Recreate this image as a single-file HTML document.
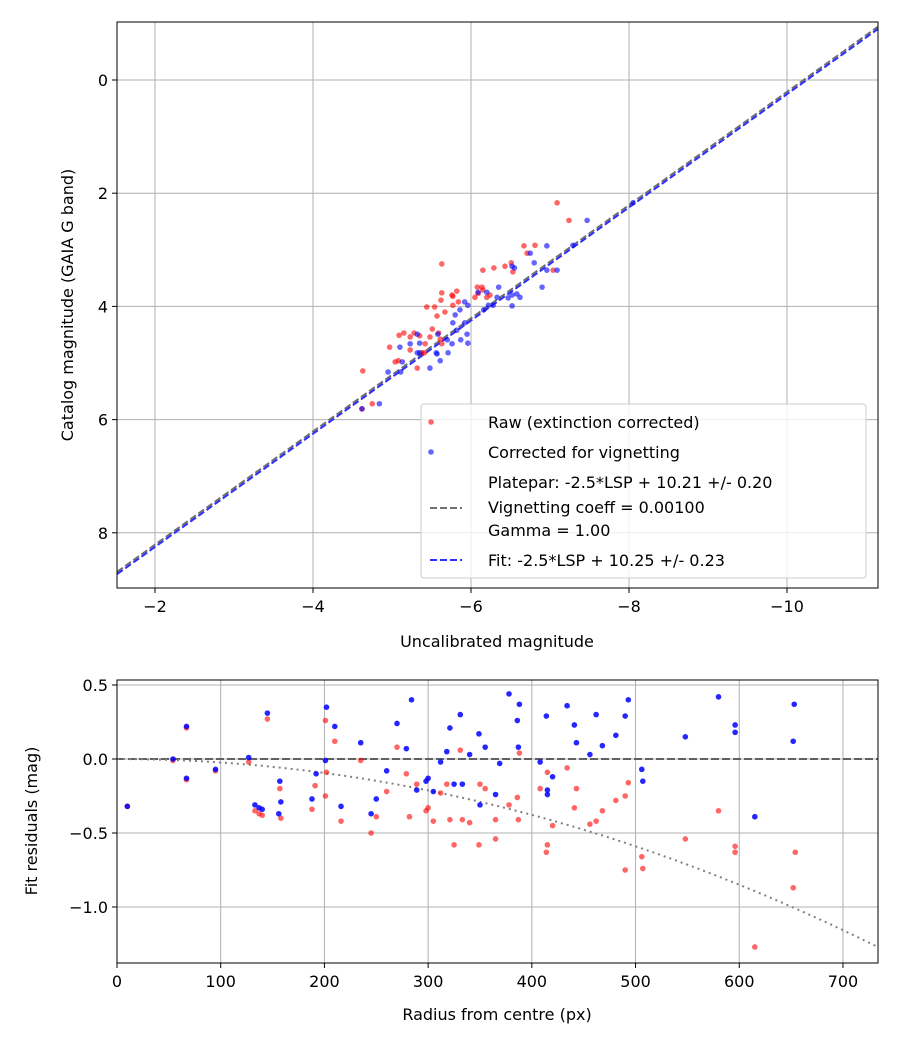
<!DOCTYPE html>
<html><head><meta charset="utf-8"><style>
body{margin:0;background:#fff}
svg text{font-family:"DejaVu Sans","Liberation Sans",sans-serif;fill:#000}
</style></head><body>
<svg id="fig" width="900" height="1050" xmlns="http://www.w3.org/2000/svg">
<rect width="900" height="1050" fill="#fff"/>
<g id="top"></g>
<g id="bot"></g>
</svg>
<script>
const rawX=[-7.09,-7.24,-6.67,-6.81,-6.71,-5.63,-6.15,-6.29,-6.43,-6.51,-6.53,-7.04,-6.08,-6.14,-6.15,-6.09,-6.20,-6.24,-6.05,-5.82,-5.77,-5.76,-5.62,-5.63,-5.44,-5.54,-5.57,-5.67,-5.84,-5.77,-5.09,-5.15,-5.23,-5.28,-5.35,-5.48,-5.51,-5.42,-5.61,-5.63,-4.97,-5.04,-5.08,-5.32,-5.41,-5.59,-4.63,-4.75,-4.62,-5.23,-5.38];
const rawY=[2.17,2.48,2.93,2.92,3.06,3.25,3.36,3.32,3.29,3.23,3.39,3.36,3.66,3.66,3.71,3.77,3.84,3.80,3.84,3.73,3.82,3.80,3.89,3.76,4.01,4.01,4.17,4.10,3.92,3.98,4.51,4.47,4.54,4.47,4.52,4.54,4.40,4.66,4.58,4.66,4.72,4.98,4.96,5.09,4.82,4.47,5.14,5.72,5.81,4.77,4.82];
const corX=[-8.05,-7.47,-6.96,-6.75,-7.29,-6.80,-6.96,-7.09,-6.90,-6.52,-6.55,-6.35,-6.47,-6.52,-6.58,-6.62,-6.52,-6.09,-6.20,-6.33,-6.28,-6.16,-6.22,-5.92,-5.96,-5.86,-5.80,-5.92,-5.77,-5.82,-5.95,-5.96,-5.87,-5.76,-5.70,-5.32,-5.35,-5.23,-5.10,-5.58,-5.56,-5.57,-5.32,-5.61,-5.48,-5.11,-5.13,-4.95,-4.84,-4.62,-5.71,-5.35];
const corY=[2.17,2.48,2.93,3.06,2.92,3.23,3.36,3.36,3.66,3.29,3.32,3.66,3.85,3.80,3.78,3.84,3.99,3.75,3.75,3.84,3.98,4.06,3.98,3.92,3.98,4.06,4.15,4.29,4.29,4.42,4.49,4.65,4.59,4.66,4.59,4.49,4.65,4.66,4.72,4.49,4.82,4.84,4.82,4.96,5.09,5.16,4.98,5.16,5.72,5.81,4.82,4.82];
const fitOffset=10.25, plateOffset=10.21;
const topXTicks=[-2,-4,-6,-8,-10], topYTicks=[0,2,4,6,8];
const radB=[10,54,67,67,95,127,133,137,140,145,157,158,156,188,192,201,202,210,216,235,245,250,260,270,279,284,289,298,300,305,312,318,321,325,331,333,340,349,350,355,365,369,378,386,387,388,408,414,415,415,420,434,441,443,456,462,468,481,490,493,506,507,548,580,596,596,615,652,653];
const resB=[-0.32,0,0.22,-0.13,-0.07,0.01,-0.31,-0.33,-0.34,0.31,-0.15,-0.29,-0.37,-0.27,-0.1,-0.01,0.35,0.22,-0.32,0.11,-0.37,-0.27,-0.08,0.24,0.07,0.4,-0.21,-0.15,-0.13,-0.22,-0.02,0.05,0.21,-0.17,0.3,-0.17,0.03,0.17,-0.31,0.08,-0.24,-0.03,0.44,0.26,0.08,0.37,-0.02,0.29,-0.21,-0.24,-0.12,0.36,0.23,0.11,0.03,0.3,0.09,0.16,0.29,0.4,-0.07,-0.15,0.15,0.42,0.23,0.18,-0.39,0.12,0.37];
const radR=[10,54,67,67,95,127,133,137,140,145,157,158,188,191,201,201,202,210,216,235,245,250,260,270,279,282,289,298,300,305,312,318,321,325,331,333,340,349,350,355,365,365,378,386,387,388,408,414,415,415,420,434,441,443,456,462,468,481,490,490,493,506,507,548,580,596,596,615,652,654];
const resR=[-0.32,-0.01,0.21,-0.14,-0.08,-0.02,-0.35,-0.37,-0.38,0.27,-0.2,-0.4,-0.34,-0.18,-0.25,0.26,-0.09,0.12,-0.42,-0.01,-0.5,-0.39,-0.22,0.08,-0.1,-0.39,-0.17,-0.35,-0.33,-0.42,-0.23,-0.17,-0.41,-0.58,0.06,-0.41,-0.43,-0.58,-0.17,-0.2,-0.41,-0.54,-0.31,-0.26,-0.41,0.04,-0.2,-0.63,-0.58,-0.09,-0.45,-0.06,-0.33,-0.2,-0.44,-0.42,-0.35,-0.28,-0.75,-0.25,-0.16,-0.66,-0.74,-0.54,-0.35,-0.59,-0.63,-1.27,-0.87,-0.63];
const botXTicks=[0,100,200,300,400,500,600,700], botYTicks=[0.5,0.0,-0.5,-1.0];
const botYLabels=["0.5","0.0","\u22120.5","\u22121.0"];
const vigK=2.36e-6;

const NS="http://www.w3.org/2000/svg";
function mk(p,t,a){const e=document.createElementNS(NS,t);for(const k in a)e.setAttribute(k,a[k]);p.appendChild(e);return e;}
function txt(p,x,y,s,anchor,name,extra){const e=mk(p,'text',Object.assign({x:x,y:y,'font-size':16,'text-anchor':anchor||'middle'},extra||{}));e.textContent=s;


return e;}
const minus=v=>String(v).replace('-','\u2212');

const T=document.getElementById('top');
const tL=117,tR=878,tT=22,tB=588;
const tx=v=>155+(-2-v)*79, ty=v=>80+v*56.6;
topXTicks.forEach(v=>{const l=mk(T,'line',{x1:tx(v),x2:tx(v),y1:tT,y2:tB,stroke:'#b0b0b0','stroke-width':1});


mk(T,'line',{x1:tx(v),x2:tx(v),y1:tB,y2:tB+5,stroke:'#000'});txt(T,tx(v),tB+24,minus(v),'middle','x-tick-label');});
topYTicks.forEach(v=>{const l=mk(T,'line',{x1:tL,x2:tR,y1:ty(v),y2:ty(v),stroke:'#b0b0b0','stroke-width':1});


mk(T,'line',{x1:tL-5,x2:tL,y1:ty(v),y2:ty(v),stroke:'#000'});txt(T,tL-9,ty(v)+6,String(v),'end','y-tick-label');});
const xa=-1.52,xb=-11.15;
let pl=mk(T,'line',{x1:tx(xa),y1:ty(xa+plateOffset),x2:tx(xb),y2:ty(xb+plateOffset),stroke:'#707070','stroke-width':2,'stroke-dasharray':'7,3'});


let fl=mk(T,'line',{x1:tx(xa),y1:ty(xa+fitOffset),x2:tx(xb),y2:ty(xb+fitOffset),stroke:'#3030ff','stroke-width':2,'stroke-dasharray':'7,3'});


rawX.forEach((x,i)=>{const c=mk(T,'circle',{cx:tx(x),cy:ty(rawY[i]),r:2.8,fill:'red','fill-opacity':0.6});

});
corX.forEach((x,i)=>{const c=mk(T,'circle',{cx:tx(x),cy:ty(corY[i]),r:2.8,fill:'blue','fill-opacity':0.6});

});
mk(T,'rect',{x:tL,y:tT,width:tR-tL,height:tB-tT,fill:'none',stroke:'#000','stroke-width':1});
txt(T,497,647,'Uncalibrated magnitude','middle','x-axis-title');
txt(T,73,305,'Catalog magnitude (GAIA G band)','middle','y-axis-title',{transform:'rotate(-90 73 305)'});
const lg=mk(T,'g',{});
mk(lg,'rect',{x:421,y:404,width:445,height:174,rx:3,fill:'#fff','fill-opacity':0.8,stroke:'#ccc'});
mk(lg,'circle',{cx:431,cy:422,r:2.8,fill:'red','fill-opacity':0.6});
txt(lg,488,428,'Raw (extinction corrected)','start','legend-raw');
mk(lg,'circle',{cx:431,cy:452,r:2.8,fill:'blue','fill-opacity':0.6});
txt(lg,488,458,'Corrected for vignetting','start','legend-corrected');
mk(lg,'line',{x1:430,x2:462,y1:508,y2:508,stroke:'#707070','stroke-width':2,'stroke-dasharray':'7,3'});
txt(lg,488,488,'Platepar: -2.5*LSP + 10.21 +/- 0.20','start','legend-platepar');
txt(lg,488,513,'Vignetting coeff = 0.00100','start','legend-vignetting');
txt(lg,488,536,'Gamma = 1.00','start','legend-gamma');
mk(lg,'line',{x1:430,x2:462,y1:560,y2:560,stroke:'#3030ff','stroke-width':2,'stroke-dasharray':'7,3'});
txt(lg,488,566,'Fit: -2.5*LSP + 10.25 +/- 0.23','start','legend-fit');

const B=document.getElementById('bot');
const bL=117,bR=878,bT=680,bB=963;
const bx=v=>117+v*1.0371, by=v=>759-v*148;
botXTicks.forEach(v=>{const l=mk(B,'line',{x1:bx(v),x2:bx(v),y1:bT,y2:bB,stroke:'#b0b0b0'});


mk(B,'line',{x1:bx(v),x2:bx(v),y1:bB,y2:bB+5,stroke:'#000'});txt(B,bx(v),bB+24,String(v),'middle','x-tick-label');});
botYTicks.forEach((v,i)=>{const l=mk(B,'line',{x1:bL,x2:bR,y1:by(v),y2:by(v),stroke:'#b0b0b0'});


mk(B,'line',{x1:bL-5,x2:bL,y1:by(v),y2:by(v),stroke:'#000'});txt(B,bL-9,by(v)+6,botYLabels[i],'end','y-tick-label');});
let z=mk(B,'line',{x1:bL,x2:bR,y1:by(0),y2:by(0),stroke:'#606060','stroke-width':2,'stroke-dasharray':'8,3'});


let d='';for(let r=0;r<=734;r+=4){d+=(r?'L':'M')+bx(r).toFixed(1)+','+by(-vigK*r*r).toFixed(1);}
let vc=mk(B,'path',{d:d,fill:'none',stroke:'#808080','stroke-width':2,'stroke-dasharray':'2,4'});


radR.forEach((r,i)=>{const c=mk(B,'circle',{cx:bx(r),cy:by(resR[i]),r:2.8,fill:'red','fill-opacity':0.6});

});
radB.forEach((r,i)=>{const c=mk(B,'circle',{cx:bx(r),cy:by(resB[i]),r:2.8,fill:'blue','fill-opacity':0.85});

});
mk(B,'rect',{x:bL,y:bT,width:bR-bL,height:bB-bT,fill:'none',stroke:'#000'});
txt(B,497,1020,'Radius from centre (px)','middle','x-axis-title');
txt(B,37,821,'Fit residuals (mag)','middle','y-axis-title',{transform:'rotate(-90 37 821)'});
</script>
</body></html>
